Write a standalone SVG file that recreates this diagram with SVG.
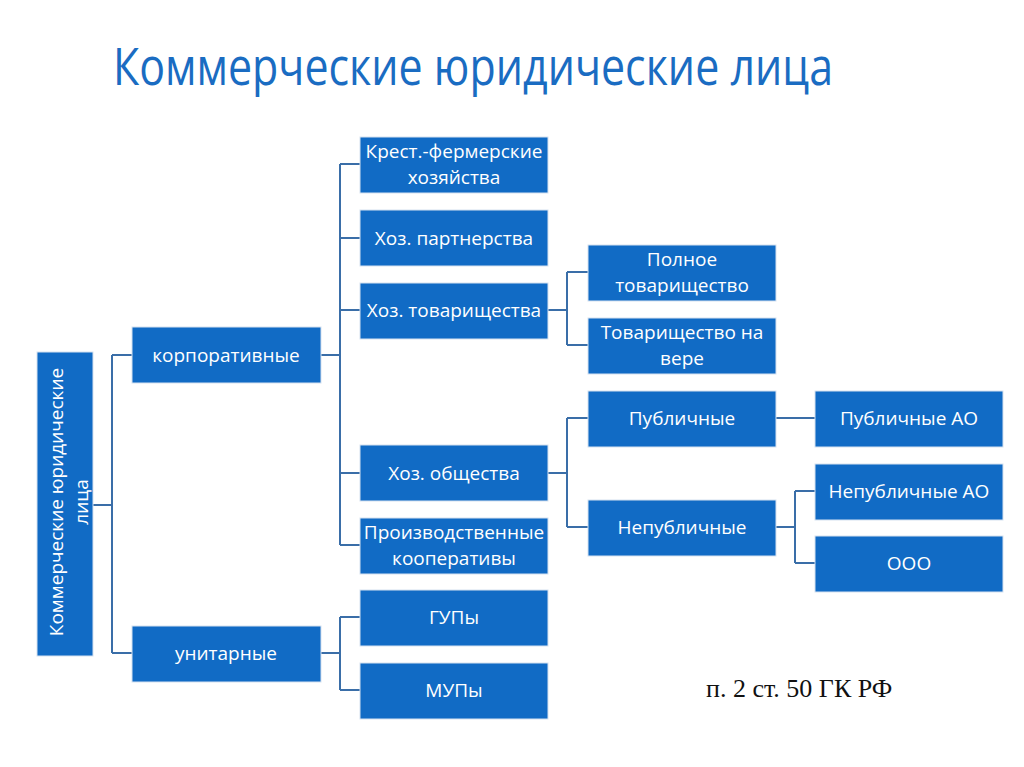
<svg xmlns="http://www.w3.org/2000/svg" width="1024" height="767" viewBox="0 0 1024 767">
<style>
.box{fill:#116bc5;stroke:#d6e2f0;stroke-width:1}
.t{font-family:"Open Sans","Noto Sans",sans-serif;font-size:19px;fill:#ffffff;text-anchor:middle}
.c{fill:none;stroke:#3a6ea8;stroke-width:2}
</style>
<rect width="1024" height="767" fill="#ffffff"/>
<text x="113" y="85" font-family="'Open Sans','Noto Sans',sans-serif" font-size="51" fill="#1a6cc2" textLength="720" lengthAdjust="spacingAndGlyphs">Коммерческие юридические лица</text>
<g id="connectors">
<path class="c" d="M93,505 H112 M112,355 V653 M112,355 H132 M112,653 H132"/>
<path class="c" d="M321,355 H340 M340,164 V545 M340,164 H360 M340,238 H360 M340,310 H360 M340,473 H360 M340,545 H360"/>
<path class="c" d="M320,653 H340 M340,617 V690 M340,617 H360 M340,690 H360"/>
<path class="c" d="M548,310 H567 M567,272 V345 M567,272 H588 M567,345 H588"/>
<path class="c" d="M548,473 H567 M567,418 V527 M567,418 H588 M567,527 H588"/>
<path class="c" d="M776,418 H815"/>
<path class="c" d="M776,527 H795 M795,491 V563 M795,491 H815 M795,563 H815"/>
</g>
<g id="root"><rect class="box" x="37" y="352" width="56" height="304"/>
<text class="t" transform="translate(63,502) rotate(-90)">Коммерческие юридические</text>
<text class="t" transform="translate(88,502) rotate(-90)">лица</text></g>
<g id="corp"><rect class="box" x="132" y="327" width="189" height="56"/><text class="t" x="226" y="362">корпоративные</text></g>
<g id="unit"><rect class="box" x="132" y="626" width="189" height="56"/><text class="t" x="226" y="660">унитарные</text></g>
<g id="kfh"><rect class="box" x="360" y="137" width="188" height="56"/><text class="t" x="454" y="158">Крест.-фермерские</text><text class="t" x="454" y="184">хозяйства</text></g>
<g id="hp"><rect class="box" x="360" y="210" width="188" height="56"/><text class="t" x="454" y="245">Хоз. партнерства</text></g>
<g id="ht"><rect class="box" x="360" y="283" width="188" height="56"/><text class="t" x="454" y="317">Хоз. товарищества</text></g>
<g id="ho"><rect class="box" x="360" y="445" width="188" height="56"/><text class="t" x="454" y="480">Хоз. общества</text></g>
<g id="pk"><rect class="box" x="360" y="518" width="188" height="56"/><text class="t" x="454" y="539">Производственные</text><text class="t" x="454" y="565">кооперативы</text></g>
<g id="gup"><rect class="box" x="360" y="590" width="188" height="56"/><text class="t" x="454" y="624">ГУПы</text></g>
<g id="mup"><rect class="box" x="360" y="663" width="188" height="56"/><text class="t" x="454" y="697">МУПы</text></g>
<g id="pt"><rect class="box" x="588" y="245" width="188" height="56"/><text class="t" x="682" y="266">Полное</text><text class="t" x="682" y="292">товарищество</text></g>
<g id="tv"><rect class="box" x="588" y="318" width="188" height="56"/><text class="t" x="682" y="339">Товарищество на</text><text class="t" x="682" y="365">вере</text></g>
<g id="pub"><rect class="box" x="588" y="391" width="188" height="56"/><text class="t" x="682" y="425">Публичные</text></g>
<g id="npub"><rect class="box" x="588" y="500" width="188" height="56"/><text class="t" x="682" y="534">Непубличные</text></g>
<g id="pao"><rect class="box" x="815" y="391" width="188" height="56"/><text class="t" x="909" y="425">Публичные АО</text></g>
<g id="npao"><rect class="box" x="815" y="464" width="188" height="56"/><text class="t" x="909" y="498">Непубличные АО</text></g>
<g id="ooo"><rect class="box" x="815" y="536" width="188" height="56"/><text class="t" x="909" y="570">ООО</text></g>
<text x="706" y="697" font-family="'Liberation Serif',serif" font-size="26" fill="#111111">п. 2 ст. 50 ГК РФ</text>
</svg>
